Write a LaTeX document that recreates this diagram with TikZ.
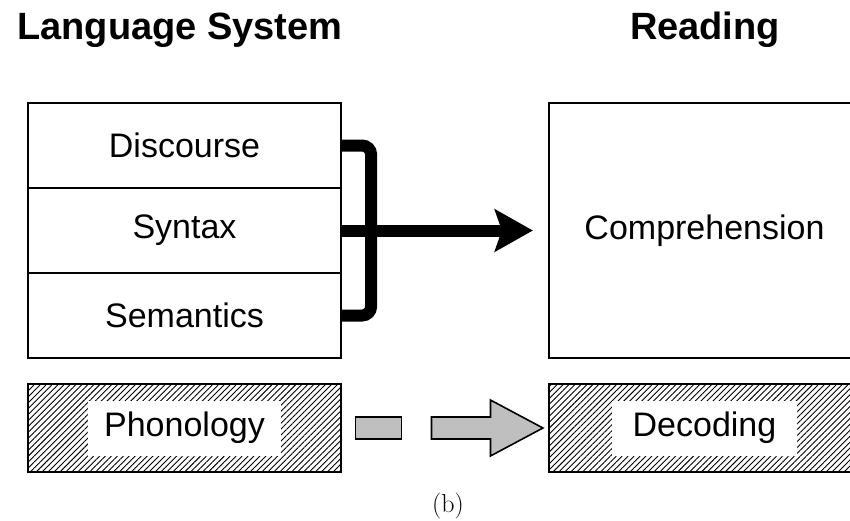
\documentclass[tikz,border=0pt]{standalone}
\usepackage{fontspec}
\setmainfont{Liberation Sans}
\newfontfamily\lmrfont{Latin Modern Roman}
\usetikzlibrary{arrows.meta,patterns.meta,calc}
\begin{document}
\begin{tikzpicture}[x=1pt,y=-1pt,
  box/.style={draw=black,line width=2.2pt,rectangle,minimum width=313pt,minimum height=85pt,inner sep=0pt,font=\fontsize{34}{40}\selectfont},
  rbox/.style={box,minimum width=311pt},
  hatched/.style={pattern={Lines[angle=45,distance=4.2pt,line width=0.9pt]}},
  lbl/.style={fill=white,inner sep=0pt,minimum height=55pt,font=\fontsize{34}{40}\selectfont},
  title/.style={font=\bfseries\fontsize{38}{44}\selectfont,inner sep=0pt},
  thick bracket/.style={line width=12pt,rounded corners=9pt},
  grayarrow/.style={draw=black,line width=1.6pt,fill=black!25},
  caption/.style={inner sep=0pt,font=\lmrfont\fontsize{26}{30}\selectfont}]
\useasboundingbox (0,0) rectangle (850,520);
\clip (0,0) rectangle (850,520);
% titles
\node[title] (t1) at (180,30) {Language System};
\node[title] (t2) at (705,30) {Reading};
% language system boxes
\node[box] (disc) at (184.5,145.5) {Discourse};
\node[box] (syn) at (184.5,230.5) {Syntax};
\node[box] (sem) at (184.5,315.5) {Semantics};
% reading box
\node[rbox,minimum height=255pt] (comp) at (704.5,230.5) {Comprehension};
% hatched boxes
\node[box,hatched,minimum height=88pt] (phon) at (184.5,428) {};
\node[lbl,minimum width=193pt] (phonl) at (phon.center) {Phonology};
\node[rbox,hatched,minimum height=88pt] (dec) at (704.5,428) {};
\node[lbl,minimum width=185pt] (decl) at (dec.center) {Decoding};
% bracket and arrow
\coordinate (bx) at ($(disc.east)+(29,0)$);
\draw[thick bracket] (disc.east) -- (bx) -- (bx |- sem.east) -- (sem.east);
\draw[line width=12pt,-{Stealth[length=38pt,width=42pt,inset=7pt]}] (syn.east) -- ($(comp.west)+(-15,0)$);
% gray dashed arrow
\coordinate (ga) at ($(phon.east)+(14,0)$);
\draw[grayarrow] ($(ga)+(0,-11)$) rectangle ($(ga)+(46,11)$);
\draw[grayarrow] ($(ga)+(76,-11)$) -- ($(ga)+(135,-11)$) -- ($(ga)+(135,-28)$) -- ($(dec.west)+(-5,0)$) -- ($(ga)+(135,28)$) -- ($(ga)+(135,11)$) -- ($(ga)+(76,11)$) -- cycle;
% caption
\node[caption] (cap) at (448,506) {(b)};
\end{tikzpicture}
\end{document}
